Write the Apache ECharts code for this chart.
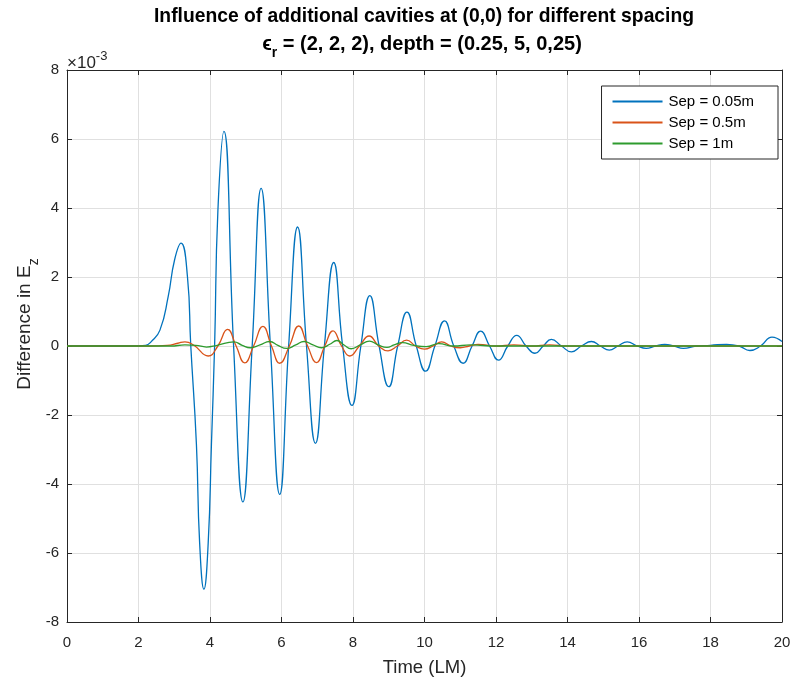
<!DOCTYPE html>
<html>
<head>
<meta charset="utf-8">
<script src="https://cdn.jsdelivr.net/npm/echarts@6/dist/echarts.min.js"></script>
<style>
html,body{margin:0;padding:0;background:#fff;}
#c{width:795px;height:683px;}
</style>
</head>
<body>
<div id="c"></div>
<script>
// values in units of 1e-3
const xTicks = [0, 2, 4, 6, 8, 10, 12, 14, 16, 18, 20];
const yTicks = [-8, -6, -4, -2, 0, 2, 4, 6, 8];
const seriesNames = ['Sep = 0.05m', 'Sep = 0.5m', 'Sep = 1m'];

const blueT = [0, 1.8, 2.2, 2.35, 2.6, 2.83, 3.01, 3.19, 3.37, 3.46, 3.62, 3.71, 3.83, 3.95, 4.04, 4.13, 4.22, 4.39,
  4.66, 4.92, 5.18, 5.43, 5.69, 5.95, 6.2, 6.45, 6.7, 6.95, 7.2, 7.46, 7.71, 7.97, 8.22, 8.47, 8.73, 9.0, 9.25, 9.51,
  9.77, 10.03, 10.29, 10.56, 10.82, 11.08, 11.33, 11.57, 11.82, 12.07, 12.33, 12.58, 12.84, 13.09, 13.32, 13.55,
  13.83, 14.11, 14.39, 14.67, 14.92, 15.17, 15.41, 15.67, 15.95, 16.2, 16.46, 16.72, 16.98, 17.24, 17.6, 18.0,
  18.45, 18.8, 19.1, 19.4, 19.72, 20];
const blueY = [0, 0, 0.02, 0.12, 0.46, 1.43, 2.5, 2.98, 2.0, 0.05, -2.85, -5.7, -7.05, -5.7, -2.85, 0.05, 3.9, 6.22,
  0, -4.52, 0, 4.57, 0, -4.3, 0, 3.45, 0, -2.82, 0, 2.42, 0, -1.72, 0, 1.46, 0, -1.18, 0, 0.98,
  0, -0.73, 0, 0.73, 0, -0.5, 0, 0.43, 0, -0.41, 0, 0.31, 0, -0.21, 0, 0.19,
  0, -0.17, 0, 0.13, 0, -0.12, 0, 0.12, 0, -0.07, 0, 0.05, 0, -0.07, 0, 0.02,
  0.05, 0, -0.13, 0, 0.26, 0.13];

const orangeT = [0, 2.3, 2.8, 3.1, 3.3, 3.55, 3.95, 4.22, 4.49, 4.73, 4.97, 5.22, 5.48, 5.72, 5.95, 6.22, 6.48, 6.73,
  6.98, 7.21, 7.44, 7.68, 7.91, 8.18, 8.45, 8.72, 8.98, 9.24, 9.5, 9.75, 10.0, 10.24, 10.48, 10.74, 11.0, 11.25,
  11.5, 12.0, 12.5, 13.0, 13.5, 14.0, 20];
const orangeY = [0, 0, 0.02, 0.08, 0.12, 0.02, -0.29, 0, 0.48, 0, -0.49, 0, 0.57, 0, -0.5, 0, 0.58, 0,
  -0.48, 0, 0.44, 0, -0.29, 0, 0.29, 0, -0.14, 0, 0.17, 0, -0.09, 0, 0.12, 0, -0.05, 0,
  0.05, 0, 0.03, 0, 0.03, 0, 0];

const greenT = [0, 2.9, 3.3, 3.6, 3.9, 4.2, 4.67, 4.9, 5.13, 5.4, 5.67, 5.9, 6.14, 6.4, 6.63, 6.88, 7.12, 7.35, 7.55,
  7.75, 7.95, 8.2, 8.46, 8.7, 8.95, 9.15, 9.38, 9.7, 10.05, 10.4, 10.8, 11.3, 12.0, 20];
const greenY = [0, 0, 0.03, 0.02, -0.03, 0.02, 0.12, 0.02, -0.05, 0.03, 0.13, 0.02, -0.07, 0.03, 0.13, 0.03, -0.05, 0.05, 0.16,
  0.03, -0.08, 0.03, 0.14, 0.03, -0.04, 0.03, 0.1, 0.02, -0.02, 0.07, 0, 0.03, 0, 0];

const colors = ['#0072BD', '#D95319', '#2E9B2E'];
const FONT = "'Liberation Sans', Arial, Helvetica, sans-serif";
const AX = '#262626';

function pairs(t, y) { return t.map((v, i) => [v, y[i]]); }

const chart = echarts.init(document.getElementById('c'), null, {renderer: 'canvas'});

const baseX = {
  type: 'value', min: 0, max: 20, interval: 2,
  axisLine: {show: true, onZero: false, lineStyle: {color: AX, width: 1}},
  axisTick: {show: true, inside: true, length: 5, lineStyle: {color: AX}},
  splitLine: {show: false}
};
const baseY = {
  type: 'value', min: -8, max: 8, interval: 2,
  axisLine: {show: true, onZero: false, lineStyle: {color: AX, width: 1}},
  axisTick: {show: true, inside: true, length: 5, lineStyle: {color: AX}},
  splitLine: {show: false}
};

const option = {
  backgroundColor: '#fff',
  animation: false,
  textStyle: {fontFamily: FONT},
  grid: {left: 67, right: 13, top: 70, bottom: 61, containLabel: false},
  xAxis: [
    Object.assign({}, baseX, {
      position: 'bottom',
      axisLabel: {color: AX, fontSize: 15, margin: 13, fontFamily: FONT,
        formatter: v => (xTicks.indexOf(v) >= 0 ? String(v) : '')},
      splitLine: {show: true, lineStyle: {color: '#e0e0e0', width: 1}},
      name: 'Time (LM)', nameLocation: 'middle', nameGap: 36,
      nameTextStyle: {color: AX, fontSize: 18.5, fontFamily: FONT}
    }),
    Object.assign({}, baseX, {position: 'top', axisLabel: {show: false}})
  ],
  yAxis: [
    Object.assign({}, baseY, {
      position: 'left',
      axisLabel: {color: AX, fontSize: 15, margin: 8, fontFamily: FONT,
        formatter: v => (yTicks.indexOf(v) >= 0 ? String(v) : '')},
      splitLine: {show: true, lineStyle: {color: '#e0e0e0', width: 1}}
    }),
    Object.assign({}, baseY, {position: 'right', axisLabel: {show: false}})
  ],
  legend: {
    orient: 'vertical', right: 17, top: 86,
    backgroundColor: '#fff', borderColor: AX, borderWidth: 1,
    padding: [8, 24, 8, 11], itemGap: 6, itemWidth: 50, itemHeight: 2,
    icon: 'rect',
    textStyle: {color: '#000', fontSize: 15, fontFamily: FONT, padding: [0, 0, 0, 1]},
    data: seriesNames
  },
  series: [
    {name: seriesNames[0], type: 'line', data: pairs(blueT, blueY), smooth: 0.5, symbol: 'none',
     lineStyle: {color: colors[0], width: 1.3}, itemStyle: {color: colors[0]}},
    {name: seriesNames[1], type: 'line', data: pairs(orangeT, orangeY), smooth: 0.5, symbol: 'none',
     lineStyle: {color: colors[1], width: 1.3}, itemStyle: {color: colors[1]}},
    {name: seriesNames[2], type: 'line', data: pairs(greenT, greenY), smooth: 0.5, symbol: 'none',
     lineStyle: {color: colors[2], width: 1.3}, itemStyle: {color: colors[2]}}
  ],
  graphic: [
    {type: 'text', z: 10, x: 424, y: 17,
     style: {text: 'Influence of additional cavities at (0,0) for different spacing',
       font: 'bold 19.3px ' + FONT, fill: '#000', textAlign: 'center', textVerticalAlign: 'middle'}},
    {type: 'text', z: 10, x: 422, y: 34,
     style: {text: '{b|ϵ}{s|r}{b| = (2, 2, 2), depth = (0.25, 5, 0,25)}', textAlign: 'center', textVerticalAlign: 'top',
       rich: {
         b: {font: 'bold 20px ' + FONT, fill: '#000', lineHeight: 20, verticalAlign: 'top'},
         s: {font: 'bold 14px ' + FONT, fill: '#000', lineHeight: 26, verticalAlign: 'bottom'}
       }}},
    {type: 'text', z: 10, x: 67, y: 50,
     style: {text: '{a|×10}{p|-3}', textAlign: 'left', textVerticalAlign: 'top',
       rich: {
         a: {font: '17px ' + FONT, fill: AX, lineHeight: 22, verticalAlign: 'bottom'},
         p: {font: '13px ' + FONT, fill: AX, lineHeight: 10, verticalAlign: 'top'}
       }}},
    {type: 'text', z: 10, x: 28, y: 324, rotation: Math.PI / 2,
     style: {text: '{a|Difference in E}{s|z}', textAlign: 'center', textVerticalAlign: 'middle',
       rich: {
         a: {font: '19px ' + FONT, fill: AX, lineHeight: 20, verticalAlign: 'top'},
         s: {font: '14px ' + FONT, fill: AX, lineHeight: 26, verticalAlign: 'bottom'}
       }}}
  ]
};
chart.setOption(option);
</script>
</body>
</html>
